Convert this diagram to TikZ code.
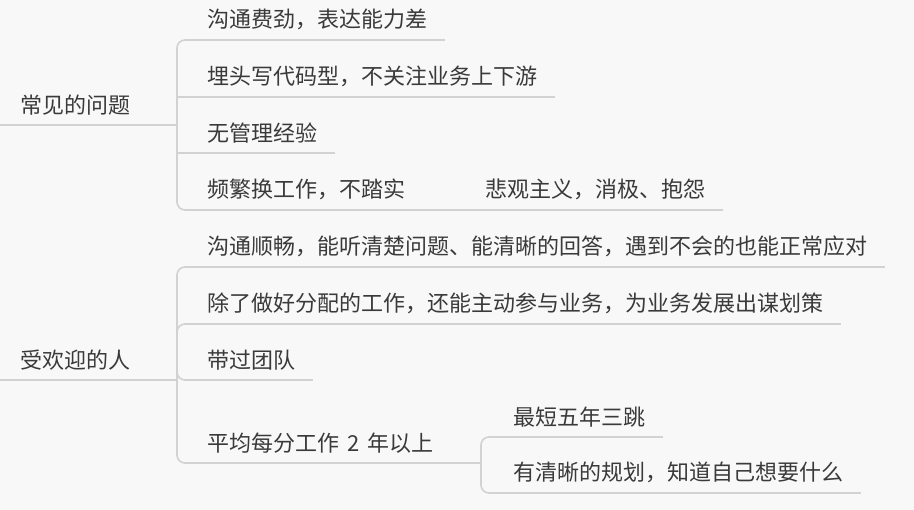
\documentclass[tikz,border=0pt]{standalone}
\usepackage{fontspec}
\setmainfont{Noto Sans CJK SC}
\usepackage{xcolor}
\definecolor{map-line}{HTML}{D2D2D2}
\definecolor{map-text}{HTML}{3A3A3A}
\definecolor{map-bg}{HTML}{F8F8F8}

\begin{document}
\begin{tikzpicture}[x=1pt, y=-1pt,
      every node/.style={font=\fontsize{22}{26}\selectfont, text=map-text},
      topic/.style={anchor=south west, inner xsep=20pt, inner ysep=0pt,
                    minimum height=40pt},
      leaf/.style={anchor=south west, inner xsep=18pt, inner ysep=0pt,
                   minimum height=40pt},
      branch/.style={draw=map-line, line width=1.6pt, rounded corners=8pt}]
    \fill[map-bg] (0,0) rectangle (914,510);
    \useasboundingbox (0,0) rectangle (914,510);
    % first topic
    \node[topic] (prob) at (0,125) {常见的问题};
    \node[leaf] (prob1) at (189,40) {沟通费劲，表达能力差};
    \node[leaf] (prob2) at (189,97) {埋头写代码型，不关注业务上下游};
    \node[leaf] (prob3) at (189,153) {无管理经验};
    \node[leaf] (prob4) at (189,210) {频繁换工作，不踏实};
    \node[leaf] (prob41) at (467,210) {悲观主义，消极、抱怨};
    % second topic
    \node[topic] (good) at (0,380) {受欢迎的人};
    \node[leaf] (good1) at (189,267) {沟通顺畅，能听清楚问题、能清晰的回答，遇到不会的也能正常应对};
    \node[leaf] (good2) at (189,324) {除了做好分配的工作，还能主动参与业务，为业务发展出谋划策};
    \node[leaf] (good3) at (189,380) {带过团队};
    \node[leaf] (good4) at (189,463) {平均每分工作\hspace{8pt}2\hspace{8pt}年以上};
    \node[leaf] (good41) at (495,437) {最短五年三跳};
    \node[leaf] (good42) at (495,493) {有清晰的规划，知道自己想要什么};
    % bracket joints
    \coordinate (probJ) at (177,125);
    \coordinate (goodJ) at (177,380);
    \coordinate (good4J) at (481,463);
    % underlines
    \foreach \n in {prob,prob1,prob2,prob3,prob4,prob41,
                    good,good1,good2,good3,good4,good41,good42}
      \draw[branch] (\n.south west) -- (\n.south east);
    % connectors
    \draw[branch] (prob.south east) -- (probJ);
    \foreach \c in {prob1,prob4}
      \draw[branch] (probJ) |- (\c.south west);
    \foreach \c in {prob2,prob3}
      \draw[branch, sharp corners] (probJ) |- (\c.south west);
    \draw[branch] (prob4.south east) -- (prob41.south west);
    \draw[branch] (good.south east) -- (goodJ);
    \foreach \c in {good1,good2,good3,good4}
      \draw[branch] (goodJ) |- (\c.south west);
    \draw[branch] (good4.south east) -- (good4J);
    \foreach \c in {good41,good42}
      \draw[branch] (good4J) |- (\c.south west);
\end{tikzpicture}
\end{document}
